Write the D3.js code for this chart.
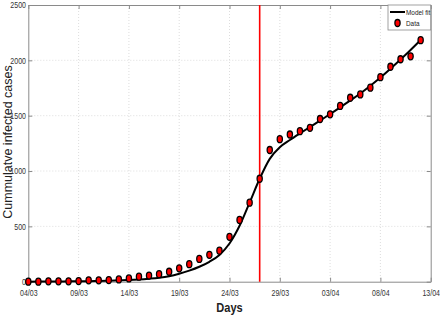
<!DOCTYPE html>
<html>
<head>
<meta charset="utf-8">
<script src="https://cdn.jsdelivr.net/npm/d3@7"></script>
<style>
  body { margin: 0; background: #fff; }
  .tick text { font-family: "Liberation Sans", Arial, sans-serif; font-size: 9px; fill: #333; }
</style>
</head>
<body>
<div id="plot"></div>
<script>
// tick labels and data
var xTickLabels = ["04/03", "09/03", "14/03", "19/03", "24/03", "29/03", "03/04", "08/04", "13/04"]
var yTicks = [0, 500, 1000, 1500, 2000, 2500]
var startLabel = "04/03"
var lockdownLabel = "27/03"

// cumulative cases, one value per day from 04/03
var dataCases = [0, 0, 3, 3, 3, 6, 12, 12, 15, 21, 30, 45, 55, 68, 90, 121, 158, 206, 243, 280,
  405, 558, 714, 930, 1190, 1288, 1330, 1360, 1390, 1470, 1512, 1588, 1662, 1692, 1753, 1848,
  1942, 2010, 2036, 2182]

// model fit, one value per day
var modelFit = [0, 1, 1, 2, 3, 4, 5, 7, 9, 12, 15, 20, 27, 36, 50, 72, 100, 135, 180, 242,
  345, 505, 715, 930, 1110, 1215, 1280, 1340, 1398, 1455, 1515, 1575, 1637, 1700, 1770, 1845,
  1925, 2008, 2094, 2184]

var legendLabels = ["Model fit", "Data"]

var parseDay = s => d3.timeParse("%d/%m/%Y")(s + "/2020")
var start = parseDay(startLabel)
var dayDate = i => d3.timeDay.offset(start, i)

var W = 440, H = 317
var margin = { left: 28.3, right: 430.7, top: 5, bottom: 281.7 }

var svg = d3.select("#plot").append("svg")
  .attr("width", W)
  .attr("height", H)
  .style("font-family", "Liberation Sans, Arial, sans-serif")

var xScale = d3.scaleTime()
  .domain([parseDay(xTickLabels[0]), parseDay(xTickLabels[xTickLabels.length - 1])])
  .range([margin.left, margin.right])

var yScale = d3.scaleLinear()
  .domain([0, 2500])
  .range([margin.bottom, margin.top])

var xTickDates = xTickLabels.map(parseDay)

// grid
svg.append("g").selectAll("line")
  .data(xTickDates.slice(1, -1))
  .enter().append("line")
  .attr("x1", d => xScale(d)).attr("x2", d => xScale(d))
  .attr("y1", margin.top).attr("y2", margin.bottom)
  .attr("stroke", "#d4d4d4").attr("stroke-width", 0.8)
  .attr("stroke-dasharray", "1,2")

svg.append("g").selectAll("line")
  .data(yTicks.slice(1, -1))
  .enter().append("line")
  .attr("y1", d => yScale(d)).attr("y2", d => yScale(d))
  .attr("x1", margin.left).attr("x2", margin.right)
  .attr("stroke", "#d4d4d4").attr("stroke-width", 0.8)
  .attr("stroke-dasharray", "1,2")

var fmt = d3.timeFormat("%d/%m")

// axes, ticks pointing inward like matlab
svg.append("g")
  .attr("transform", "translate(0," + margin.bottom + ")")
  .call(d3.axisBottom(xScale).tickValues(xTickDates).tickFormat(fmt).tickSizeInner(-4).tickSizeOuter(0).tickPadding(8))
svg.append("g")
  .attr("transform", "translate(" + margin.left + ",0)")
  .call(d3.axisLeft(yScale).tickValues(yTicks).tickFormat(d3.format("d")).tickSizeInner(-4).tickSizeOuter(0).tickPadding(3))
svg.append("g")
  .attr("transform", "translate(0," + margin.top + ")")
  .call(d3.axisTop(xScale).tickValues(xTickDates).tickFormat("").tickSizeInner(-4).tickSizeOuter(0))
svg.append("g")
  .attr("transform", "translate(" + margin.right + ",0)")
  .call(d3.axisRight(yScale).tickValues(yTicks).tickFormat("").tickSizeInner(-4).tickSizeOuter(0))

svg.selectAll(".domain").attr("stroke", "#8a8a8a")
svg.selectAll(".tick line").attr("stroke", "#8a8a8a")
// squeeze tick labels, the original font is condensed
svg.selectAll(".tick text").attr("transform", "scale(0.78,1)")

// model fit
var line = d3.line()
  .x((d, i) => xScale(dayDate(i)))
  .y(d => yScale(d))
  .curve(d3.curveMonotoneX)

svg.append("path")
  .datum(modelFit)
  .attr("d", line)
  .attr("fill", "none")
  .attr("stroke", "#000")
  .attr("stroke-width", 2)

// red vertical marker
var xl = xScale(parseDay(lockdownLabel))
svg.append("line")
  .attr("x1", xl).attr("x2", xl)
  .attr("y1", margin.top).attr("y2", margin.bottom)
  .attr("stroke", "#ff0000").attr("stroke-width", 1.6)

// data points
svg.append("g").selectAll("ellipse")
  .data(dataCases)
  .enter().append("ellipse")
  .attr("cx", (d, i) => xScale(dayDate(i)))
  .attr("cy", d => yScale(d))
  .attr("rx", 2.6).attr("ry", 3.5)
  .attr("fill", "#ff0000")
  .attr("stroke", "#000").attr("stroke-width", 1.3)

// legend
var lg = svg.append("g")
lg.append("rect")
  .attr("x", 388).attr("y", margin.top).attr("width", margin.right - 388).attr("height", 25)
  .attr("fill", "#fff").attr("stroke", "#8a8a8a").attr("stroke-width", 0.8)
lg.append("line")
  .attr("x1", 390).attr("x2", 405).attr("y1", 12).attr("y2", 12)
  .attr("stroke", "#000").attr("stroke-width", 2)
lg.append("ellipse")
  .attr("cx", 397.5).attr("cy", 23).attr("rx", 2.6).attr("ry", 3.5)
  .attr("fill", "#ff0000").attr("stroke", "#000").attr("stroke-width", 1.3)
lg.selectAll("text")
  .data(legendLabels)
  .enter().append("text")
  .attr("transform", (d, i) => "translate(406," + (14.5 + i * 11) + ") scale(0.8,1)")
  .style("font-size", "8px")
  .attr("fill", "#222")
  .text(d => d)

// axis titles
svg.append("text")
  .attr("transform", "translate(" + (margin.left + margin.right) / 2 + ",311.5) scale(0.85,1)")
  .attr("text-anchor", "middle")
  .style("font-weight", "bold").style("font-size", "13px")
  .attr("fill", "#222")
  .text("Days")

svg.append("text")
  .attr("transform", "translate(11.5,142) rotate(-90)")
  .attr("text-anchor", "middle")
  .style("font-size", "12.5px")
  .attr("fill", "#222")
  .text("Cummulatve infected cases")
</script>
</body>
</html>
